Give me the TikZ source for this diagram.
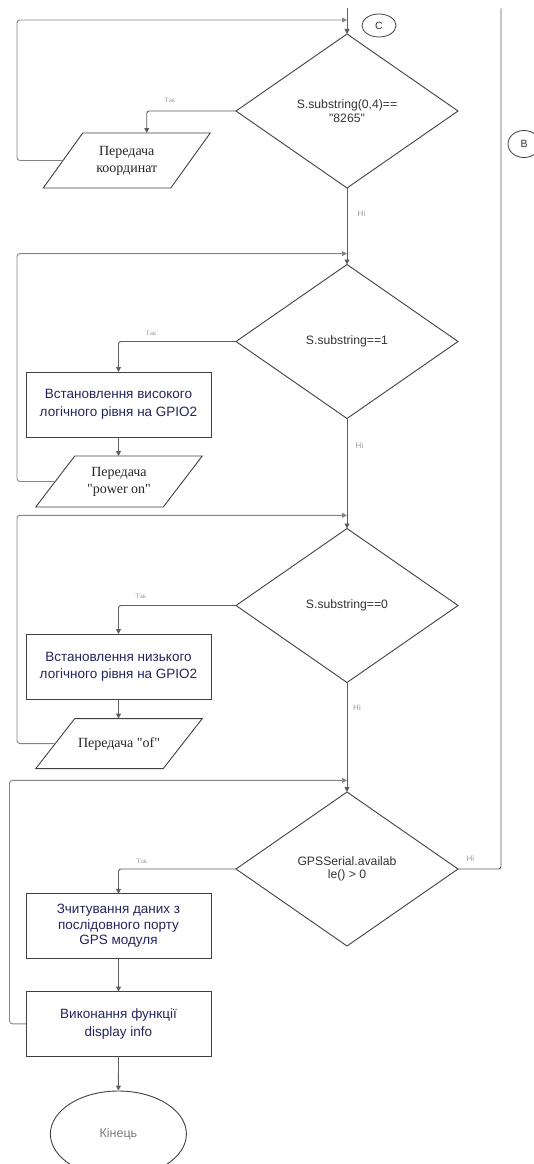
\documentclass[tikz,border=0pt]{standalone}
\usepackage{fontspec}
\setmainfont{Liberation Serif}
\newfontfamily\arialf{Liberation Sans}
\usetikzlibrary{shapes.geometric,arrows.meta}
\definecolor{lineC}{HTML}{5E5E5E}
\definecolor{loopC}{HTML}{858585}
\definecolor{shapeC}{HTML}{404040}
\definecolor{txtC}{HTML}{333333}
\definecolor{navyC}{HTML}{24245C}
\definecolor{labC}{HTML}{9A9A9A}
\tikzset{
  dec/.style={diamond, draw=shapeC, line width=0.9pt, minimum width=222pt, minimum height=154pt,
    inner sep=0pt, outer sep=0pt, font=\arialf\fontsize{12.2}{13.5}\selectfont, text=txtC, align=center},
  proc/.style={rectangle, draw=shapeC, line width=1pt, minimum width=185pt, minimum height=65pt,
    inner sep=0pt, outer sep=0pt, font=\arialf\fontsize{13.5}{17.5}\selectfont, text=navyC, align=center},
  iobody/.style={rectangle, minimum width=127.5pt, inner sep=0pt, outer sep=0pt,
    font=\fontsize{14}{17}\selectfont, text=black!85, align=center},
  ioline/.style={draw=shapeC, line width=0.9pt},
  arr/.style={draw=lineC, line width=0.9pt, -{Triangle[length=5pt,width=5pt]}},
  plain/.style={draw=lineC, line width=0.9pt, rounded corners=2.5pt},
  loopline/.style={draw=loopC, line width=0.9pt, rounded corners=3pt, -{Triangle[length=5pt,width=5pt]}},
  tak/.style={font=\fontsize{7}{8}\selectfont, text=labC, inner sep=0pt},
  ni/.style={font=\arialf\fontsize{8}{9}\selectfont, text=labC, inner sep=0pt},
  conn/.style={ellipse, draw=shapeC, line width=0.8pt, inner sep=0pt, font=\arialf\fontsize{10.5}{11}\selectfont, text=txtC},
}
\newcommand\drawio[2]{\draw[ioline] ([xshift=#2]#1.north west) -- ([xshift=#2]#1.north east) -- ([xshift=-#2]#1.south east) -- ([xshift=-#2]#1.south west) -- cycle;}
\begin{document}
\begin{tikzpicture}[x=1pt,y=-1pt]
\useasboundingbox (0,0) rectangle (534,1164);

% connectors C and B
\node[conn, minimum width=34pt, minimum height=23pt] (cC) at (379,25.5) {C};
\node[conn, minimum width=32pt, minimum height=27pt] (cB) at (524,144) {B};

% decisions
\node[dec] (d1) at (347,111) {S.substring(0,4)==\\"8265"};
\node[dec] (d2) at (347,341.5) {S.substring==1};
\node[dec] (d3) at (347,605.5) {S.substring==0};
\node[dec] (d4) at (347,869) {GPSSerial.availab\\le() \textgreater{} 0};

% io
\node[iobody, minimum height=55pt] (p1) at (126.75,160.5) {Передача\\координат};
\drawio{p1}{19.75pt}
\node[iobody, minimum height=51pt] (p2) at (119,481.5) {Передача\\\textquotedbl power on\textquotedbl};
\drawio{p2}{19.5pt}
\node[iobody, minimum height=50pt] (p3) at (119,743.6) {Передача \textquotedbl of\textquotedbl};
\drawio{p3}{19.5pt}

% processes
\node[proc] (r2) at (118.5,404.5) {Встановлення високого\\логічного рівня на GPIO2};
\node[proc] (r3) at (118.5,666.5) {Встановлення низького\\логічного рівня на GPIO2};
\node[proc, minimum height=64.5pt, font=\arialf\fontsize{13.5}{15.5}\selectfont] (r4) at (118.5,926) {Зчитування даних з\\послідовного порту\\GPS модуля};
\node[proc, minimum height=64.5pt] (r5) at (118.5,1023.8) {Виконання функції\\display info};

% end
\node[ellipse, draw=shapeC, line width=0.9pt, minimum width=136pt, minimum height=86pt, inner sep=0pt,
  font=\arialf\fontsize{12.5}{14}\selectfont, text=labC!80!black] (end) at (118.4,1134) {Кінець};

% coordinates
\coordinate (top) at (347,8.5);
\coordinate (btop) at (501,8.5);
\coordinate (j1) at (347,20);
\coordinate (j2) at (347,253.6);
\coordinate (j3) at (347,515.3);
\coordinate (j4) at (347,780.4);

% main line
\draw[arr] (top) -- (d1.north);
\draw[arr] (d1.south) -- (d2.north);
\draw[arr] (d2.south) -- (d3.north);
\draw[arr] (d3.south) -- (d4.north);

% yes branches
\draw[arr, rounded corners=2.5pt] (d1.west) -| ([xshift=20pt]p1.north);
\draw[arr, rounded corners=2.5pt] (d2.west) -| (r2.north);
\draw[arr] (r2.south) -- (r2.south |- p2.north);
\draw[arr, rounded corners=2.5pt] (d3.west) -| (r3.north);
\draw[arr] (r3.south) -- (r3.south |- p3.north);
\draw[arr, rounded corners=2.5pt] (d4.west) -| (r4.north);
\draw[arr] (r4.south) -- (r5.north);
\draw[arr] (r5.south) -- (end.north);

% loops back
\draw[loopline] (p1.west) -- (17,160.5) |- (j1);
\draw[loopline] (p2.west) -- (17,481.5) |- (j2);
\draw[loopline] (p3.west) -- (17,743.6) |- (j3);
\draw[loopline] (r5.west) -- (9.5,1023.8) |- (j4);

% no branch of d4 to B
\draw[plain] (d4.east) -| (btop);

% labels
\node[tak] (t1) at (170,100) {Так};
\node[tak] (t2) at (151,333.5) {Так};
\node[tak] (t3) at (141,596) {Так};
\node[tak] (t4) at (142,861) {Так};
\node[ni] (n1) at (361.5,213.6) {Ні};
\node[ni] (n2) at (359.5,446) {Ні};
\node[ni] (n3) at (357,707.5) {Ні};
\node[ni] (n4) at (470.4,859) {Ні};
\end{tikzpicture}
\end{document}
